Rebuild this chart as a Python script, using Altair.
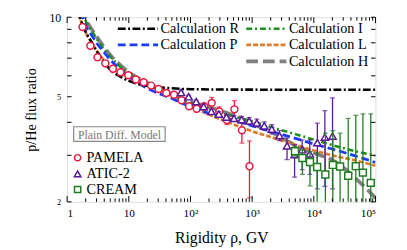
import altair as alt
import pandas as pd

# ---------------- data ----------------
pam_x = [1.78, 2.38, 3.11, 4.17, 5.53, 7.33, 9.82, 13.0, 17.4, 23.0, 30.5, 40.6,
         54.1, 71.7, 95.0, 126, 167, 221, 293, 389, 516, 683, 906]
pam_y = [9.18, 7.80, 7.06, 6.69, 6.38, 6.19, 6.03, 5.81, 5.67, 5.51, 5.35, 5.17,
         5.09, 4.85, 4.60, 4.50, 4.59, 4.74, 4.40, 4.08, 4.48, 3.73, 2.73]
pam_lo = [9.10, 7.74, 7.01, 6.64, 6.33, 6.14, 5.98, 5.76, 5.62, 5.46, 5.29, 5.10,
          5.01, 4.76, 4.50, 4.38, 4.45, 4.52, 4.22, 3.92, 4.14, 3.34, 2.07]
pam_hi = [9.26, 7.86, 7.11, 6.74, 6.43, 6.24, 6.08, 5.86, 5.72, 5.56, 5.41, 5.24,
          5.17, 4.94, 4.70, 4.62, 4.73, 4.97, 4.58, 4.25, 4.83, 4.14, 3.40]

atic_x = [70.4, 93.3, 123.7, 163.9, 218.1, 289.1, 383.3, 508, 676, 896, 1188, 1574,
          2087, 2777, 3681, 4880, 6468, 8606, 11410, 15120, 20120]
atic_y = [5.19, 5.00, 4.79, 4.59, 4.40, 4.30, 4.19, 4.14, 4.10, 4.05, 3.98, 3.88,
          3.77, 3.56, 3.26, 3.02, 3.15, 3.04, 3.35, 3.52, 3.55]
atic_lo = [5.13, 4.94, 4.73, 4.52, 4.33, 4.21, 4.10, 4.04, 3.99, 3.93, 3.85, 3.74,
           3.62, 3.41, 2.89, 2.48, 2.65, 2.54, 2.24, 2.29, 2.24]
atic_hi = [5.25, 5.06, 4.85, 4.66, 4.47, 4.39, 4.28, 4.24, 4.21, 4.17, 4.11, 4.02,
           3.92, 3.72, 3.49, 3.29, 3.43, 3.43, 3.97, 4.43, 4.95]

cream_x = [4953, 6540, 8670, 11330, 15400, 20340, 26680, 36140, 47910, 62580, 83880]
cream_y = [3.11, 2.93, 2.83, 2.71, 2.54, 2.76, 2.72, 2.51, 2.73, 2.58, 2.36]
cream_lo = [2.98, 2.54, 2.30, 1.95, 1.5, 1.5, 1.5, 1.5, 1.5, 1.5, 1.5]
cream_hi = [3.24, 3.15, 3.10, 3.06, 3.64, 3.72, 3.64, 4.14, 4.25, 4.31, 4.31]

curve_x = [1.5, 2, 2.5, 3, 4, 5, 7, 10, 20, 50, 100, 200, 500, 1000, 2000, 5000,
           10000, 20000, 50000, 100000]
calc_R = [10.5, 8.8, 8.05, 7.45, 6.75, 6.33, 5.99, 5.74, 5.50, 5.38, 5.34, 5.33,
          5.32, 5.32, 5.31, 5.31, 5.31, 5.31, 5.31, 5.31]
calc_P = [11.6, 9.3, 8.55, 8.0, 7.35, 6.9, 6.4, 5.95, 5.38, 4.92, 4.58, 4.33,
          4.07, 3.88, 3.70, 3.48, 3.31, 3.17, 2.97, 2.82]
calc_I = [12.3, 9.7, 8.9, 8.3, 7.55, 7.1, 6.55, 6.12, 5.58, 5.04, 4.73, 4.47,
          4.21, 4.04, 3.84, 3.61, 3.44, 3.28, 3.10, 2.99]
calc_L = [10.3, 8.75, 8.0, 7.5, 6.85, 6.5, 6.15, 5.95, 5.55, 5.0, 4.6, 4.28,
          3.93, 3.70, 3.52, 3.29, 3.13, 3.00, 2.86, 2.74]
calc_H = [12.6, 9.85, 9.0, 8.45, 7.7, 7.2, 6.65, 6.2, 5.64, 5.13, 4.79, 4.57,
          4.25, 3.96, 3.68, 3.28, 3.06, 2.88, 2.43, 2.07]

x_major = [1, 10, 100, 1000, 10000, 100000]
x_labels = ["1", "10", "10²", "10³", "10⁴", "10⁵"]
x_minor = [m * d for d in [1, 10, 100, 1000, 10000] for m in range(2, 10)]
y_ticks = [2, 3, 4, 5, 6, 7, 8, 9, 10]
y_labels = [2, 5, 10]

calc_names = ["Calculation R", "Calculation P", "Calculation I", "Calculation L", "Calculation H"]
data_names = ["PAMELA", "ATIC-2", "CREAM"]
box_text = "Plain Diff. Model"

# ---------------- styles ----------------
W, H = 314.5, 188.3
FONT = "Times New Roman, Liberation Serif, DejaVu Serif, serif"
RED, PURPLE, GREEN_D = "#e8173f", "#5a189a", "#1e7d1e"
styles = {
    "Calculation R": dict(color="black", dash=[8, 2.5, 2, 2.5], width=2.6),
    "Calculation P": dict(color="#1a3cff", dash=[8, 4], width=2.8),
    "Calculation I": dict(color="#1a901a", dash=[6, 3, 2, 3], width=2.6),
    "Calculation L": dict(color="#e07b2a", dash=[5, 2], width=2.8),
    "Calculation H": dict(color="#808080", dash=[12, 5], width=3.8),
}

xs = alt.Scale(type="log", domain=[1, 1e5], nice=False)
ys = alt.Scale(type="log", domain=[2, 10], nice=False)

label_expr = " : ".join(
    f"datum.value == {v} ? '{t}'" for v, t in zip(x_major, x_labels)) + " : ''"
xaxis = alt.Axis(values=x_major, labelExpr=label_expr, ticks=False, domain=False, grid=False,
                 labelFont=FONT, labelFontSize=11.5, labelPadding=6, labelColor="black",
                 title="Rigidity ρ, GV", titleFont=FONT, titleFontSize=16,
                 titleFontWeight="normal", titlePadding=11, titleColor="black")
yaxis = alt.Axis(values=y_labels, ticks=False, domain=False, grid=False,
                 labelFont=FONT, labelColor="black", labelPadding=6.5,
                 labelFontSize={"condition": {"test": "datum.value == 10", "value": 12}, "value": 8.5},
                 title="p/He flux ratio", titleFont=FONT, titleFontSize=14.5,
                 titleFontWeight="normal", titlePadding=11, titleColor="black")

X = lambda f="x": alt.X(f + ":Q", scale=xs, axis=xaxis)
Y = lambda f="y": alt.Y(f + ":Q", scale=ys, axis=yaxis)

layers = []

# model curves
curve_vals = {"Calculation R": calc_R, "Calculation P": calc_P, "Calculation I": calc_I,
              "Calculation L": calc_L, "Calculation H": calc_H}
for name in ["Calculation H", "Calculation L", "Calculation I", "Calculation P", "Calculation R"]:
    s = styles[name]
    df = pd.DataFrame({"x": curve_x, "y": curve_vals[name]})
    layers.append(alt.Chart(df).mark_line(clip=True, color=s["color"], strokeDash=s["dash"],
                                          strokeWidth=s["width"], interpolate="monotone")
                  .encode(x=X(), y=Y()))

# data sets with error bars
def dataset(xv, yv, lo, hi, color, shape, size):
    df = pd.DataFrame({"x": xv, "y": yv, "lo": lo, "hi": hi})
    base = alt.Chart(df)
    rule = base.mark_rule(clip=True, color=color, strokeWidth=1.3).encode(
        x=X(), y=Y("lo"), y2="hi:Q")
    cap_lo = base.mark_tick(clip=True, color=color, orient="horizontal", size=5,
                            thickness=1.3).encode(x=X(), y=Y("lo"))
    cap_hi = base.mark_tick(clip=True, color=color, orient="horizontal", size=5,
                            thickness=1.3).encode(x=X(), y=Y("hi"))
    pts = base.mark_point(clip=True, shape=shape, size=size, color=color, filled=False,
                          fill="white", fillOpacity=1, strokeWidth=1.5, opacity=1).encode(
        x=X(), y=Y())
    return [rule, cap_lo, cap_hi, pts]

layers += dataset(pam_x, pam_y, pam_lo, pam_hi, RED, "circle", 50)
layers += dataset(atic_x, atic_y, atic_lo, atic_hi, PURPLE, "triangle-up", 55)
layers += dataset(cream_x, cream_y, cream_lo, cream_hi, GREEN_D, "square", 50)

# inward ticks on all four sides
def xticks(vals, length):
    df = pd.DataFrame({"x": vals})
    b = alt.Chart(df).mark_rule(color="black", strokeWidth=1)
    return [b.encode(x=X(), y=alt.value(H), y2=alt.value(H - length)),
            b.encode(x=X(), y=alt.value(0), y2=alt.value(length))]

layers += xticks(x_major, 6)
layers += xticks(x_minor, 3.5)
ydf = pd.DataFrame({"y": y_ticks})
yb = alt.Chart(ydf).mark_rule(color="black", strokeWidth=1)
layers += [yb.encode(y=Y(), x=alt.value(0), x2=alt.value(4.5)),
           yb.encode(y=Y(), x=alt.value(W), x2=alt.value(W - 4.5))]

# legend for the calculations (layout positions in plot pixels)
calc_pos = {"Calculation R": (51.7, 11.7), "Calculation P": (51.7, 28.3),
            "Calculation I": (182.7, 11.7), "Calculation L": (182.7, 28.3),
            "Calculation H": (182.7, 45.0)}
for name in calc_names:
    s = styles[name]
    x0, yy = calc_pos[name]
    one = alt.Chart(pd.DataFrame({"t": [name]}))
    layers.append(one.mark_rule(color=s["color"], strokeDash=s["dash"], strokeWidth=s["width"])
                  .encode(x=alt.value(x0), x2=alt.value(x0 + 41), y=alt.value(yy)))
    layers.append(one.mark_text(font=FONT, fontSize=14.5, align="left", baseline="middle",
                                color="black")
                  .encode(x=alt.value(x0 + 43.5), y=alt.value(yy + 0.5), text="t:N"))

# legend for the data sets
data_pos = [(10.7, 143.3), (10.7, 159.8), (10.7, 175.7)]
data_sty = [(RED, "circle", 40), (PURPLE, "triangle-up", 45), (GREEN_D, "square", 40)]
for name, (px, py), (col, shp, sz) in zip(data_names, data_pos, data_sty):
    one = alt.Chart(pd.DataFrame({"t": [name]}))
    layers.append(one.mark_point(shape=shp, size=sz, color=col, filled=False, strokeWidth=1.5,
                                 opacity=1).encode(x=alt.value(px), y=alt.value(py)))
    layers.append(one.mark_text(font=FONT, fontSize=14.5, align="left", baseline="middle",
                                color="black")
                  .encode(x=alt.value(px + 9), y=alt.value(py + 0.5), text="t:N"))

# "Plain Diff. Model" box
boxdf = pd.DataFrame({"t": [box_text]})
layers.append(alt.Chart(boxdf).mark_rect(fill="white", stroke="#888888", strokeWidth=1.2)
              .encode(x=alt.value(6.7), x2=alt.value(100), y=alt.value(111.7), y2=alt.value(126.7)))
layers.append(alt.Chart(boxdf).mark_text(font=FONT, fontSize=12, align="center",
                                         baseline="middle", color="#777777")
              .encode(x=alt.value(53.4), y=alt.value(119.7), text="t:N"))

chart = alt.layer(*layers).properties(
    width=W, height=H, autosize="none",
    padding={"left": 60.3, "top": 7, "right": 24, "bottom": 47},
).configure_view(stroke="black", strokeWidth=1.5).configure(background="white")

chart.save("out.html", embed_options={"renderer": "svg", "actions": False})
